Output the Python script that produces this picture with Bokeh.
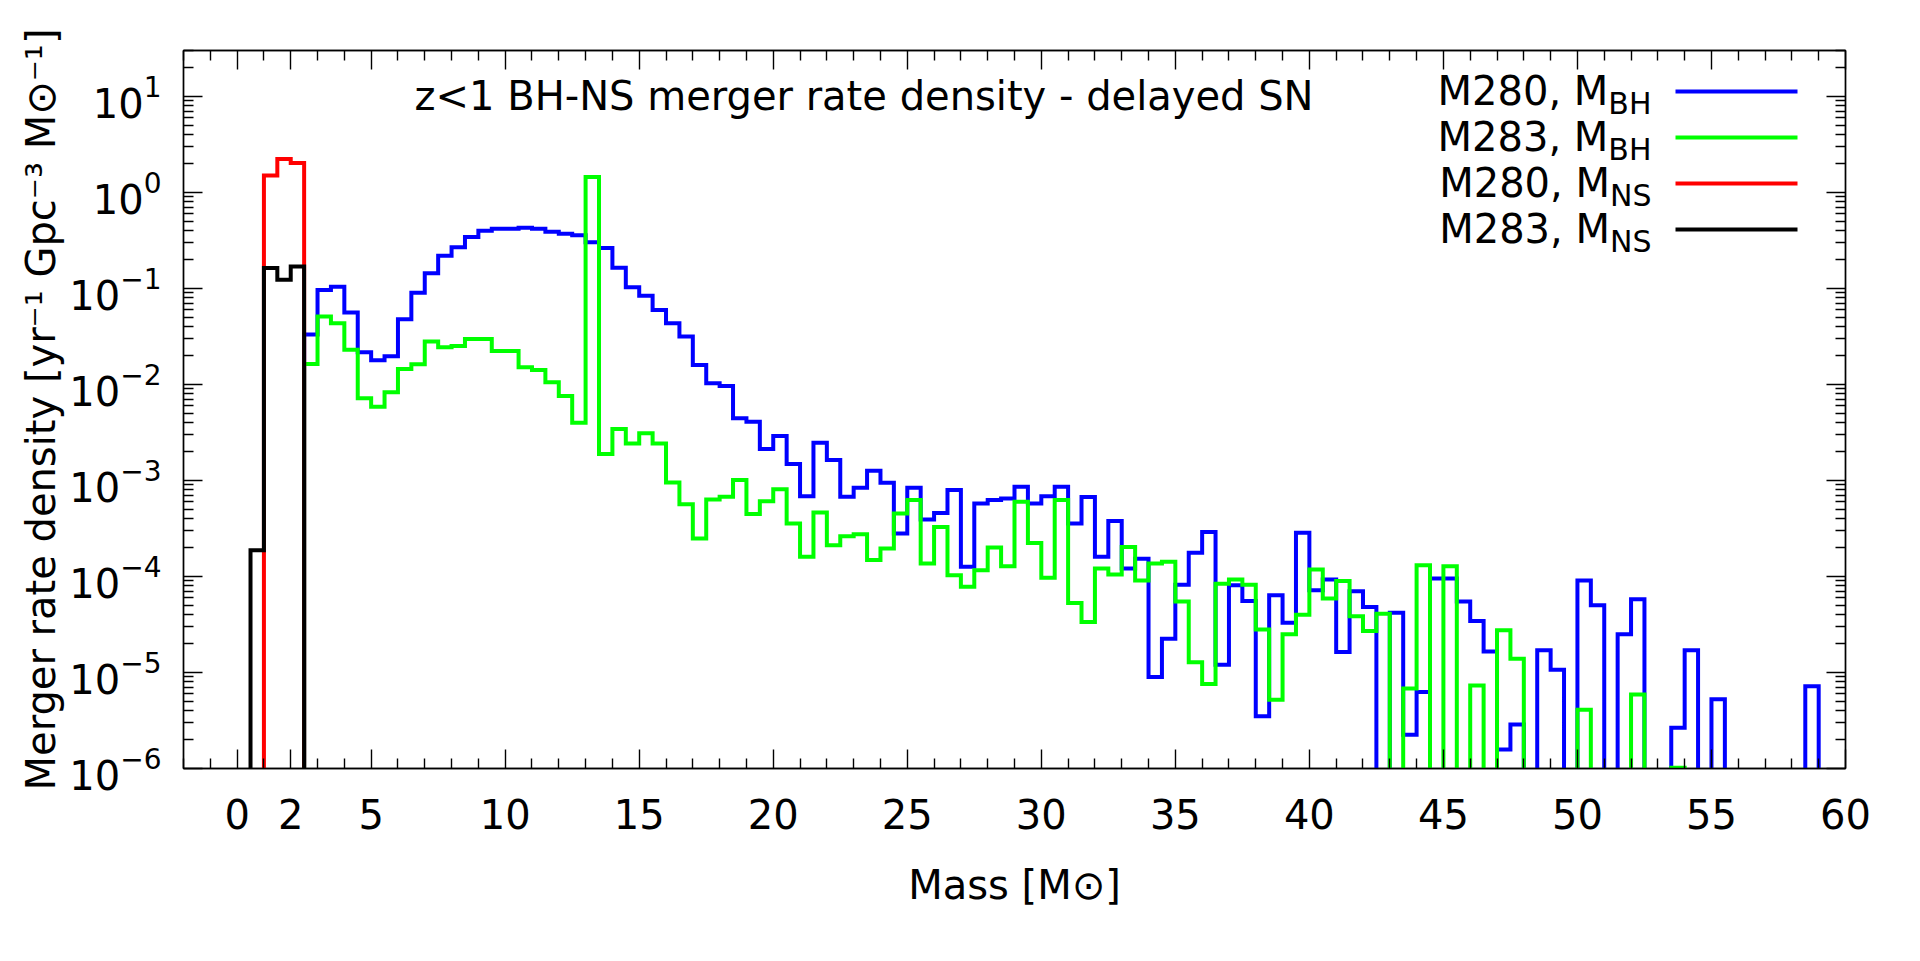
import numpy as np
from math import log10
from bokeh.plotting import figure
from bokeh.models import Range1d, FixedTicker, LinearAxis, LogAxis, Label, CustomJSTickFormatter
from bokeh.embed import file_html
from bokeh.resources import INLINE

# ---------------- data (0.5 Msun bins, values = merger rate density) ----------------
BIN_WIDTH = 0.5
BH_START = 2.5   # lower edge of first BH bin
NS_START = 0.5   # lower edge of first NS bin

m280_bh = [0.033, 0.096, 0.104, 0.056, 0.0216, 0.0178, 0.0196, 0.0478, 0.090, 0.144,
           0.218, 0.268, 0.342, 0.398, 0.417, 0.417, 0.428, 0.417, 0.388, 0.370,
           0.358, 0.303, 0.264, 0.164, 0.103, 0.0836, 0.0597, 0.0434, 0.0315, 0.0159,
           0.0103, 0.0096, 0.00443, 0.00408, 0.00212, 0.0029, 0.00148, 6.85e-4, 0.00247, 0.00163,
           6.74e-4, 8.38e-4, 0.00126, 9.44e-4, 2.8e-4, 8.38e-4, 3.92e-4, 4.59e-4, 7.93e-4, 1.26e-4,
           5.75e-4, 6.24e-4, 6.48e-4, 8.57e-4, 5.75e-4, 6.85e-4, 8.57e-4, 3.55e-4, 6.7e-4, 1.6e-4,
           3.79e-4, 1.21e-4, 1.53e-4, 8.95e-6, 2.25e-5, 8.2e-5, 1.76e-4, 2.91e-4, 1.2e-5, 8.1e-5,
           5.56e-5, 3.5e-6, 6.37e-5, 3.3e-5, 2.85e-4, 7.2e-5, 9.3e-5, 1.63e-5, 7.0e-5, 4.8e-5,
           0.0, 4.2e-5, 2.24e-6, 6.25e-6, 9.5e-5, 9.5e-5, 5.5e-5, 3.43e-5, 1.65e-5, 1.58e-6,
           2.88e-6, 0.0, 1.7e-5, 1.07e-5, 0.0, 9.1e-5, 5.0e-5, 0.0, 2.5e-5, 5.8e-5,
           0.0, 0.0, 2.65e-6, 1.7e-5, 0.0, 5.25e-6, 0.0, 0.0, 0.0, 0.0,
           0.0, 0.0, 7.2e-6]

m283_bh = [0.0163, 0.0508, 0.0434, 0.0229, 0.00716, 0.00586, 0.00826, 0.0145, 0.0162, 0.0279,
           0.0243, 0.0251, 0.0297, 0.0297, 0.0223, 0.0223, 0.0151, 0.0141, 0.0105, 0.00757,
           0.00399, 1.445, 0.00188, 0.00343, 0.00243, 0.00309, 0.00243, 9.5e-4, 5.66e-4, 2.48e-4,
           6.34e-4, 6.74e-4, 0.00101, 4.46e-4, 6.08e-4, 8.11e-4, 3.55e-4, 1.6e-4, 4.63e-4, 2.11e-4,
           2.62e-4, 2.75e-4, 1.48e-4, 1.95e-4, 4.53e-4, 6.24e-4, 1.36e-4, 3.28e-4, 1.03e-4, 7.8e-5,
           1.16e-4, 2.0e-4, 1.28e-4, 5.98e-4, 2.23e-4, 9.7e-5, 6.24e-4, 5.3e-5, 3.36e-5, 1.21e-4,
           1.05e-4, 2.03e-4, 9.1e-5, 1.36e-4, 1.42e-4, 5.5e-5, 1.28e-5, 7.6e-6, 8.4e-5, 9.3e-5,
           8.2e-5, 2.8e-5, 5.2e-6, 2.5e-5, 4.0e-5, 1.18e-4, 5.9e-5, 8.97e-5, 3.85e-5, 2.7e-5,
           4.1e-5, 0.0, 6.8e-6, 1.31e-4, 0.0, 1.28e-4, 0.0, 7.3e-6, 0.0, 2.75e-5,
           1.39e-5, 0.0, 0.0, 0.0, 0.0, 4.1e-6, 0.0, 0.0, 0.0, 5.9e-6,
           0.0, 0.0, 1.02e-6, 0.0, 0.0, 0.0, 0.0, 0.0, 0.0, 0.0,
           0.0, 0.0, 0.0]

m280_ns = [0.0, 1.50, 2.22, 2.02]
m283_ns = [1.87e-4, 0.163, 0.123, 0.169]

x_major = [0, 2, 5, 10, 15, 20, 25, 30, 35, 40, 45, 50, 55, 60]
x_minor = [i for i in range(-2, 61) if i not in x_major]
y_major = [10.0 ** k for k in range(-6, 2)]
y_minor = [j * 10.0 ** k for k in range(-6, 2) for j in range(2, 10)]

series = [
    ("M280, M", "BH", m280_bh, BH_START, "#0000ff"),
    ("M283, M", "BH", m283_bh, BH_START, "#00ff00"),
    ("M280, M", "NS", m280_ns, NS_START, "#ff0000"),
    ("M283, M", "NS", m283_ns, NS_START, "#000000"),
]

TITLE = "z<1 BH-NS merger rate density - delayed SN"
X_LABEL = "Mass [M\u2299]"
Y_LABEL = "Merger rate density [yr\u207b\u00b9 Gpc\u207b\u00b3 M\u2299\u207b\u00b9]"

# ---------------- layout ----------------
XMIN, XMAX = -2, 60
YMIN, YMAX = 1e-6, 30
W, H = 1912, 952
FL, FR, FT, FB = 183, 1845, 50, 768   # frame edges in page pixels
FONT = "DejaVu Sans"
BIG, SMALL = 40, 30
FLOOR = 1e-12
BASE_FIX = 0.37   # empirical baseline correction (fraction of font size)


def dx(px):
    return XMIN + (px - FL) / (FR - FL) * (XMAX - XMIN)


def dy(py):
    return 10 ** (log10(YMIN) + (FB - py) / (FB - FT) * (log10(YMAX) - log10(YMIN)))


WID = {'M': 0.863, 'e': 0.615, 'r': 0.411, 'g': 0.635, ' ': 0.318, 'a': 0.613, 't': 0.392,
       'd': 0.635, 'n': 0.634, 's': 0.521, 'i': 0.278, 'y': 0.592, '[': 0.390, ']': 0.390,
       'G': 0.775, 'p': 0.635, 'c': 0.550, '-': 0.361, 'B': 0.686, 'H': 0.752,
       'N': 0.748, 'S': 0.635, ',': 0.318}
for ch in "0123456789":
    WID[ch] = 0.636


def tw(s, size):
    return sum(WID.get(c, 0.6) for c in s) * size


def step_path(start, values):
    v = np.asarray(values, dtype=float)
    v = np.where(v > 0, v, FLOOR)
    edges = start + BIN_WIDTH * np.arange(len(v) + 1)
    xs = np.repeat(edges, 2)
    ys = np.concatenate([[FLOOR], np.repeat(v, 2), [FLOOR]])
    return xs, ys


p = figure(width=W, height=H, x_range=Range1d(XMIN, XMAX), y_range=Range1d(YMIN, YMAX),
           y_axis_type="log", output_backend="svg", toolbar_location=None, title=None,
           min_border_left=FL, min_border_right=W - FR,
           min_border_top=FT, min_border_bottom=H - FB)
p.background_fill_color = "white"
p.border_fill_color = "white"
p.outline_line_color = "black"
p.outline_line_width = 1.4
p.grid.visible = False

bottom = p.xaxis[0]
left = p.yaxis[0]
bottom.ticker = FixedTicker(ticks=x_major, minor_ticks=x_minor)
left.ticker = FixedTicker(ticks=y_major, minor_ticks=y_minor)

top = LinearAxis(ticker=FixedTicker(ticks=x_major, minor_ticks=x_minor),
                 formatter=CustomJSTickFormatter(code="return ''"))
right = LogAxis(ticker=FixedTicker(ticks=y_major, minor_ticks=y_minor),
                formatter=CustomJSTickFormatter(code="return ''"))
p.add_layout(top, "above")
p.add_layout(right, "right")

for ax in [bottom, left, top, right]:
    ax.axis_line_color = "black"
    ax.axis_line_width = 1.4
    ax.major_tick_in = 19
    ax.major_tick_out = 0
    ax.minor_tick_in = 10
    ax.minor_tick_out = 0
    ax.major_tick_line_color = "black"
    ax.minor_tick_line_color = "black"
    ax.major_tick_line_width = 1.4
    ax.minor_tick_line_width = 1.4
    ax.major_label_text_font = FONT
    ax.major_label_text_font_size = f"{BIG}px"
    ax.major_label_text_color = "black"
    ax.axis_label_text_font = FONT
    ax.axis_label_text_font_size = f"{BIG}px"
    ax.axis_label_text_font_style = "normal"
    ax.axis_label_text_color = "black"

bottom.major_label_standoff = 30
left.major_label_standoff = 22
top.major_label_standoff = 0
right.major_label_standoff = 0
bottom.axis_label = X_LABEL
bottom.axis_label_standoff = 30
left.axis_label = Y_LABEL
left.axis_label_standoff = 2

# ---------------- histogram step lines ----------------
for _, _, vals, start, color in series:
    xs, ys = step_path(start, vals)
    p.line(xs, ys, line_color=color, line_width=4, line_join="miter")


def lab(text, px, py, size, align="left"):
    # py is the wanted baseline in page pixels
    p.add_layout(Label(x=dx(px), y=dy(py - BASE_FIX * size), x_units="data", y_units="data",
                       text=text, text_font=FONT, text_font_size=f"{size}px",
                       text_color="black", text_align=align, text_baseline="alphabetic"))


# title
lab(TITLE, 863.5, 110, BIG, align="center")

# legend
rows_y = [91, 137, 183, 229]
TEXT_END = 1651
for (name, sub, _, _, color), ly in zip(series, rows_y):
    base = ly + 14.5
    lab(sub, TEXT_END, base + 8.5, SMALL, align="right")
    lab(name, TEXT_END - tw(sub, SMALL), base, BIG, align="right")
    p.segment(x0=[dx(1675)], x1=[dx(1797)], y0=[dy(ly)], y1=[dy(ly)],
              line_color=color, line_width=4)

open("out.html", "w").write(file_html(p, INLINE))
